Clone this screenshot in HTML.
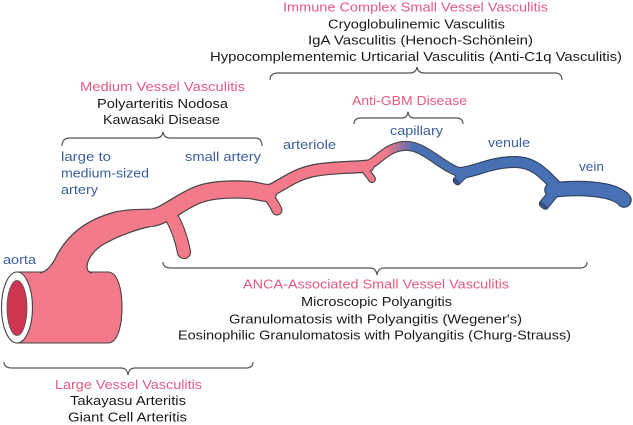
<!DOCTYPE html>
<html>
<head>
<meta charset="utf-8">
<style>
html,body{margin:0;padding:0;background:#fff;}
svg{display:block;}
text{font-family:"Liberation Sans",sans-serif;font-size:13px;}
.p{fill:#e65a82;}
.b{fill:#3b5f9e;}
.k{fill:#1a1a1a;}
</style>
</head>
<body>
<svg width="633" height="425" viewBox="0 0 633 425" xmlns="http://www.w3.org/2000/svg">
<defs>
<linearGradient id="cap" gradientUnits="userSpaceOnUse" x1="386" y1="0" x2="414" y2="0">
<stop offset="0" stop-color="#f27a8b"/>
<stop offset="1" stop-color="#4870b5"/>
</linearGradient>
</defs>
<rect width="633" height="425" fill="#fff"/>

<!-- braces -->
<g fill="none" stroke="#555" stroke-width="1.2">
<path d="M62,146 Q62,138 70,138 L156,138 Q162,138 163,132 Q164,138 170,138 L255,138 Q262,138 262,146"/>
<path d="M270,80 Q270,73 278,73 L410,73 Q416,73 417,67 Q418,73 424,73 L555,73 Q562,73 562,80"/>
<path d="M354,124 Q354,118 361,118 L402,118 Q407,118 408,112 Q409,118 414,118 L456,118 Q463,118 463,124"/>
<path d="M163,262 Q163,268 171,268 L370,268 Q376,268 377,275 Q378,268 384,268 L580,268 Q587,268 587,262"/>
<path d="M4,362 Q4,368 12,368 L121,368 Q127,368 128,375 Q129,368 135,368 L246,368 Q253,368 253,362"/>
</g>

<!-- aorta cylinder -->
<path d="M17,272 H108 C118,272 122,290 122,307 C122,325 118,343 108,343 H17 Z" fill="#f27a8b" stroke="#444" stroke-width="1.1"/>
<ellipse cx="17" cy="307.5" rx="15.5" ry="35.5" fill="#fff" stroke="#444" stroke-width="1.1"/>
<ellipse cx="17" cy="308" rx="10" ry="27.5" fill="#cf3550" stroke="#555" stroke-width="0.8"/>

<!-- dark outlines of vessels -->
<g fill="none" stroke="#444" stroke-linecap="round">
<path d="M150,218 C165,217 180,201 200,194 C215,189 235,189 250,190 C258,191 263,193 268,193" stroke-width="18.4"/>
<path d="M172,218 Q180,232 184,252" stroke-width="14.2"/>
<path d="M262,194 C280,188 290,176 312,171 C330,167 350,168 368,166" stroke-width="13"/>
<path d="M265,192 Q272,200 277,210" stroke-width="11"/>
<path d="M363,168 Q368,173 372,179" stroke-width="8"/>
<path d="M366,166 C378,162 385,148 403,146 C420,144 435,160 450,168 C455,171 460,173 465,173" stroke-width="10"/>
</g>
<g fill="none" stroke="#2d3f5e">
<path d="M460,173 C475,172 490,162 515,162 C535,162 545,175 558,188" stroke-width="12" stroke-linecap="round"/>
<path d="M552,190 C570,188 590,188 605,191 C615,193 622,197 624,200" stroke-width="15.5" stroke-linecap="round"/>
<path d="M467,171 L456,182" stroke-width="9"/>
<path d="M557,189 L543,206" stroke-width="11"/>
</g>

<!-- base branch fill -->
<path d="M40,273 C48,271 53,264 57,255 C68,235 85,220 115,212 C128,209 140,209.5 153,209.5 L153,226 C138,229 118,236 104,244 C94,250 88,258 87,266 C87,270 88,272 92,273 Z" fill="#f27a8b"/>
<path d="M40,273 C48,271 53,264 57,255 C68,235 85,220 115,212 C128,209 140,209.5 150,209.2" fill="none" stroke="#444" stroke-width="1.2"/>
<path d="M150,226.6 C136,229.5 118,236 104,244 C94,250 88,258 87,266 C87,270 88,272 92,273" fill="none" stroke="#444" stroke-width="1.2"/>

<!-- pink fills -->
<g fill="none" stroke="#f27a8b" stroke-linecap="round">
<path d="M150,218 C165,217 180,201 200,194 C215,189 235,189 250,190 C258,191 263,193 268,193" stroke-width="16"/>
<path d="M172,218 Q180,232 184,252" stroke-width="12"/>
<path d="M262,194 C280,188 290,176 312,171 C330,167 350,168 368,166" stroke-width="10.6"/>
<path d="M265,192 Q272,200 277,210" stroke-width="8.8"/>
<path d="M363,168 Q368,173 372,179" stroke-width="5.8"/>
</g>
<path d="M366,166 C378,162 385,148 403,146 C420,144 435,160 450,168 C455,171 460,173 465,173" fill="none" stroke="url(#cap)" stroke-width="7.8" stroke-linecap="round"/>
<g fill="none" stroke="#4870b5">
<path d="M467,171 L456,182" stroke-width="7"/>
<path d="M557,189 L543,206" stroke-width="9"/>
<path d="M460,173 C475,172 490,162 515,162 C535,162 545,175 558,188" stroke-width="9.8" stroke-linecap="round"/>
<path d="M552,190 C570,188 590,188 605,191 C615,193 622,197 624,200" stroke-width="13.3" stroke-linecap="round"/>
</g>
<ellipse cx="456" cy="182" rx="1.8" ry="3.6" transform="rotate(135 456 182)" fill="#36538a" stroke="#2d3f5e" stroke-width="0.9"/>
<ellipse cx="543" cy="206" rx="2" ry="4.6" transform="rotate(129 543 206)" fill="#36538a" stroke="#2d3f5e" stroke-width="0.9"/>

<!-- texts -->
<text class="p" x="283" y="11.7" textLength="265" lengthAdjust="spacingAndGlyphs">Immune Complex Small Vessel Vasculitis</text>
<text class="k" x="328" y="28.3" textLength="177" lengthAdjust="spacingAndGlyphs">Cryoglobulinemic Vasculitis</text>
<text class="k" x="308" y="44.5" textLength="225" lengthAdjust="spacingAndGlyphs">IgA Vasculitis (Henoch-Schönlein)</text>
<text class="k" x="210" y="61" textLength="412" lengthAdjust="spacingAndGlyphs">Hypocomplementemic Urticarial Vasculitis (Anti-C1q Vasculitis)</text>

<text class="p" x="80" y="91" textLength="165" lengthAdjust="spacingAndGlyphs">Medium Vessel Vasculitis</text>
<text class="k" x="97" y="108" textLength="131" lengthAdjust="spacingAndGlyphs">Polyarteritis Nodosa</text>
<text class="k" x="103" y="124" textLength="117" lengthAdjust="spacingAndGlyphs">Kawasaki Disease</text>

<text class="b" x="61" y="161" textLength="50" lengthAdjust="spacingAndGlyphs">large to</text>
<text class="b" x="61" y="177.3" textLength="88" lengthAdjust="spacingAndGlyphs">medium-sized</text>
<text class="b" x="61" y="194" textLength="37" lengthAdjust="spacingAndGlyphs">artery</text>
<text class="b" x="185" y="161" textLength="76" lengthAdjust="spacingAndGlyphs">small artery</text>
<text class="b" x="283" y="149" textLength="53" lengthAdjust="spacingAndGlyphs">arteriole</text>
<text class="p" x="352" y="105" textLength="115" lengthAdjust="spacingAndGlyphs">Anti-GBM Disease</text>
<text class="b" x="390" y="135" textLength="53" lengthAdjust="spacingAndGlyphs">capillary</text>
<text class="b" x="488" y="147" textLength="42" lengthAdjust="spacingAndGlyphs">venule</text>
<text class="b" x="579" y="171" textLength="25" lengthAdjust="spacingAndGlyphs">vein</text>
<text class="b" x="3" y="264" textLength="33" lengthAdjust="spacingAndGlyphs">aorta</text>

<text class="p" x="243" y="288.3" textLength="266" lengthAdjust="spacingAndGlyphs">ANCA-Associated Small Vessel Vasculitis</text>
<text class="k" x="301" y="306" textLength="151" lengthAdjust="spacingAndGlyphs">Microscopic Polyangitis</text>
<text class="k" x="229" y="323.3" textLength="293" lengthAdjust="spacingAndGlyphs">Granulomatosis with Polyangitis (Wegener's)</text>
<text class="k" x="178" y="339.3" textLength="393" lengthAdjust="spacingAndGlyphs">Eosinophilic Granulomatosis with Polyangitis (Churg-Strauss)</text>

<text class="p" x="55" y="389" textLength="147" lengthAdjust="spacingAndGlyphs">Large Vessel Vasculitis</text>
<text class="k" x="70" y="405" textLength="116" lengthAdjust="spacingAndGlyphs">Takayasu Arteritis</text>
<text class="k" x="68" y="421.7" textLength="119" lengthAdjust="spacingAndGlyphs">Giant Cell Arteritis</text>
</svg>
</body>
</html>
